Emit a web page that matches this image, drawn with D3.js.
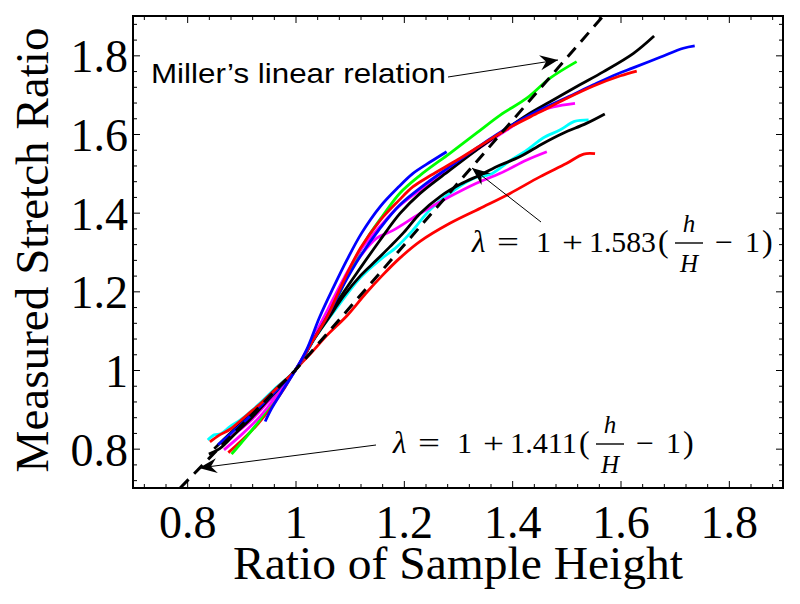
<!DOCTYPE html>
<html>
<head>
<meta charset="utf-8">
<script src="https://cdn.jsdelivr.net/npm/d3@7"></script>
<style>
  html, body { margin: 0; padding: 0; background: #ffffff; }
  svg { display: block; }
</style>
</head>
<body>
<svg id="chart" width="800" height="604"></svg>
<script>
// ---------------- data ----------------
const xTicks = [0.8, 1, 1.2, 1.4, 1.6, 1.8];
const yTicks = [0.8, 1, 1.2, 1.4, 1.6, 1.8];
const xTickLabels = ["0.8", "1", "1.2", "1.4", "1.6", "1.8"];
const yTickLabels = ["0.8", "1", "1.2", "1.4", "1.6", "1.8"];
const xTitle = "Ratio of Sample Height";
const yTitle = "Measured Stretch Ratio";

// Miller's linear relation (dashed): slope 1.411 below h/H=1, slope 1.583 above
const millerLine = [[0.787, 0.7], [1.0, 1.0], [1.568, 1.9]];

const blueShort = [[0.944,0.869],[0.955,0.9],[0.975,0.945],[1.0,1.0],[1.02,1.05],[1.045,1.136],[1.07,1.21],[1.095,1.28],[1.122,1.348],[1.156,1.415],[1.19,1.465],[1.217,1.5],[1.25,1.53],[1.279,1.555]];
const redUpper = [[0.842,0.817],[0.86,0.835],[0.88,0.85],[0.91,0.885],[0.94,0.92],[0.97,0.96],[1.0,1.0],[1.03,1.07],[1.06,1.14],[1.09,1.23],[1.12,1.31],[1.156,1.38],[1.19,1.43],[1.217,1.466],[1.25,1.495],[1.3,1.535],[1.35,1.578],[1.4,1.62],[1.45,1.655],[1.5,1.69],[1.55,1.722],[1.6,1.748],[1.63,1.76]];
const blueLong = [[0.857,0.81],[0.88,0.838],[0.91,0.875],[0.94,0.915],[0.97,0.955],[1.0,1.0],[1.03,1.07],[1.06,1.14],[1.09,1.22],[1.12,1.29],[1.156,1.36],[1.193,1.42],[1.242,1.475],[1.285,1.517],[1.347,1.576],[1.384,1.61],[1.439,1.653],[1.5,1.692],[1.55,1.725],[1.593,1.752],[1.623,1.768],[1.673,1.795],[1.716,1.818],[1.737,1.824]];
const greenLine = [[0.882,0.786],[0.9,0.815],[0.93,0.865],[0.96,0.925],[1.0,1.0],[1.03,1.07],[1.065,1.15],[1.1,1.25],[1.13,1.33],[1.16,1.39],[1.193,1.45],[1.23,1.495],[1.285,1.551],[1.334,1.602],[1.378,1.648],[1.427,1.691],[1.47,1.742],[1.519,1.784]];
const magentaUpper = [[0.868,0.797],[0.9,0.835],[0.93,0.875],[0.96,0.925],[1.0,1.0],[1.03,1.075],[1.06,1.155],[1.09,1.235],[1.12,1.305],[1.156,1.365],[1.19,1.415],[1.24,1.468],[1.29,1.52],[1.34,1.565],[1.39,1.61],[1.439,1.652],[1.476,1.669],[1.516,1.678]];
const blackTop = [[0.85,0.8],[0.88,0.84],[0.91,0.88],[0.94,0.92],[0.97,0.96],[1.0,1.0],[1.03,1.07],[1.06,1.135],[1.09,1.2],[1.12,1.26],[1.156,1.33],[1.193,1.398],[1.23,1.449],[1.285,1.508],[1.334,1.559],[1.378,1.602],[1.427,1.648],[1.47,1.682],[1.525,1.725],[1.568,1.758],[1.624,1.805],[1.662,1.849]];
const cyanLine = [[0.838,0.822],[0.85,0.835],[0.862,0.838],[0.879,0.856],[0.9,0.875],[0.93,0.91],[0.96,0.95],[1.0,1.0],[1.04,1.09],[1.08,1.165],[1.12,1.235],[1.156,1.28],[1.187,1.313],[1.217,1.356],[1.248,1.407],[1.298,1.462],[1.334,1.49],[1.359,1.497],[1.396,1.532],[1.427,1.559],[1.457,1.59],[1.488,1.61],[1.515,1.632],[1.541,1.636]];
const blackLower = [[0.84,0.786],[0.86,0.8],[0.89,0.84],[0.92,0.88],[0.95,0.925],[1.0,1.0],[1.03,1.07],[1.06,1.13],[1.09,1.19],[1.12,1.24],[1.15,1.28],[1.174,1.313],[1.2,1.35],[1.23,1.398],[1.267,1.441],[1.304,1.472],[1.341,1.496],[1.378,1.521],[1.414,1.542],[1.457,1.576],[1.494,1.602],[1.537,1.627],[1.571,1.651]];
const magentaLower = [[0.862,0.812],[0.89,0.84],[0.92,0.875],[0.95,0.92],[0.975,0.955],[1.0,1.0],[1.03,1.07],[1.06,1.15],[1.09,1.23],[1.12,1.29],[1.15,1.335],[1.18,1.355],[1.23,1.398],[1.285,1.441],[1.334,1.475],[1.378,1.5],[1.427,1.534],[1.464,1.555]];
const redLower = [[0.876,0.79],[0.9,0.82],[0.93,0.862],[0.96,0.915],[0.98,0.955],[1.0,1.0],[1.03,1.045],[1.058,1.088],[1.095,1.138],[1.13,1.195],[1.16,1.24],[1.193,1.285],[1.23,1.327],[1.285,1.373],[1.347,1.415],[1.396,1.449],[1.451,1.491],[1.5,1.525],[1.532,1.549],[1.553,1.55]];

const seriesData = [redLower, cyanLine, magentaLower, blackLower, greenLine, magentaUpper, blackTop, blueLong, redUpper, blueShort];
const seriesColors = ["#ff0000","#00ffff","#ff00ff","#000000","#00ff00","#ff00ff","#000000","#0000ff","#ff0000","#0000ff"];

// annotations
const millerText = "Miller\u2019s linear relation";
const eqCoefs = ["1.583", "1.411"];

// ---------------- drawing ----------------
const svg = d3.select("#chart");
const x = d3.scaleLinear().domain([0.7, 1.9]).range([133, 783]);
const y = d3.scaleLinear().domain([0.7, 1.9]).range([488, 16]);
const SERIF = "'Liberation Serif', 'Times New Roman', serif";

const defs = svg.append("defs");
defs.append("clipPath").attr("id", "plotclip")
  .append("rect").attr("x", 133).attr("y", 16).attr("width", 650).attr("height", 472);
defs.append("marker").attr("id", "ahead")
  .attr("viewBox", "-20 -9 22 18").attr("refX", 0).attr("refY", 0)
  .attr("markerWidth", 22).attr("markerHeight", 18)
  .attr("markerUnits", "userSpaceOnUse").attr("orient", "auto")
  .append("path").attr("d", "M0,0 L-18,-7.5 L-12,0 L-18,7.5 Z").attr("fill", "#000");

const plot = svg.append("g").attr("clip-path", "url(#plotclip)");
const line = d3.line().x(d => x(d[0])).y(d => y(d[1])).curve(d3.curveCatmullRom.alpha(0.5));

seriesData.forEach((s, i) => {
  plot.append("path").datum(s)
    .attr("d", line)
    .attr("fill", "none")
    .attr("stroke", seriesColors[i])
    .attr("stroke-width", 2.8)
    .attr("stroke-linejoin", "round");
});

plot.append("path").datum(millerLine)
  .attr("d", d3.line().x(d => x(d[0])).y(d => y(d[1])))
  .attr("fill", "none").attr("stroke", "#000").attr("stroke-width", 3)
  .attr("stroke-dasharray", "12,8");

// axes: ticks inside on all four sides
const minorVals = d3.range(0.72, 1.9, 0.04).map(v => +v.toFixed(2)).filter(v => Math.abs(v*5 - Math.round(v*5)) > 1e-6);
function drawAxis(gen, tx, ty) {
  const g = svg.append("g").attr("transform", `translate(${tx},${ty})`).call(gen);
  g.select(".domain").remove();
  g.selectAll("line").attr("stroke", "#000").attr("stroke-width", 1);
  return g;
}
const mk = (axisFn, scale, len, vals) => axisFn(scale).tickValues(vals).tickSize(-len).tickFormat("");
drawAxis(mk(d3.axisBottom, x, 4, minorVals), 0, 488);
drawAxis(mk(d3.axisTop, x, 4, minorVals), 0, 16);
drawAxis(mk(d3.axisLeft, y, 4, minorVals), 133, 0);
drawAxis(mk(d3.axisRight, y, 4, minorVals), 783, 0);
drawAxis(mk(d3.axisTop, x, 7, xTicks), 0, 16);
drawAxis(mk(d3.axisRight, y, 7, yTicks), 783, 0);

const gx = drawAxis(d3.axisBottom(x).tickValues(xTicks).tickSize(-7).tickPadding(0)
  .tickFormat((d, i) => xTickLabels[i]), 0, 488);
gx.selectAll("text").attr("font-family", SERIF)
  .attr("font-size", 46).attr("fill", "#000").attr("y", 50).attr("dy", 0);
const gy = drawAxis(d3.axisLeft(y).tickValues(yTicks).tickSize(-7).tickPadding(0)
  .tickFormat((d, i) => yTickLabels[i]), 133, 0);
gy.selectAll("text").attr("font-family", SERIF)
  .attr("font-size", 46).attr("fill", "#000").attr("x", -5).attr("dy", "0.36em");

// frame
svg.append("rect").attr("x", 133).attr("y", 16).attr("width", 650).attr("height", 472)
  .attr("fill", "none").attr("stroke", "#000").attr("stroke-width", 2);

// titles
svg.append("text").attr("x", 458).attr("y", 579).attr("text-anchor", "middle")
  .attr("font-family", SERIF).attr("font-size", 46)
  .attr("textLength", 450).attr("lengthAdjust", "spacingAndGlyphs")
  .attr("fill", "#000").text(xTitle);
svg.append("text").attr("transform", "translate(48,250) rotate(-90)").attr("text-anchor", "middle")
  .attr("font-family", SERIF).attr("font-size", 46)
  .attr("textLength", 445).attr("lengthAdjust", "spacingAndGlyphs")
  .attr("fill", "#000").text(yTitle);

// Miller annotation
svg.append("text").attr("x", 151).attr("y", 83)
  .attr("font-family", "'Liberation Sans', Arial, sans-serif").attr("font-size", 28)
  .attr("textLength", 295).attr("lengthAdjust", "spacingAndGlyphs")
  .attr("fill", "#000").text(millerText);
svg.append("line").attr("x1", 448).attr("y1", 77).attr("x2", 558).attr("y2", 60)
  .attr("stroke", "#000").attr("stroke-width", 1).attr("marker-end", "url(#ahead)");

// equation annotations: λ = 1 + c(h/H − 1), tokens laid out like LaTeX
function equation(x0, base, coef) {
  const g = svg.append("g").attr("font-family", SERIF).attr("fill", "#000");
  const tok = (t, dx, opts = {}) => {
    const el = g.append("text").attr("x", x0 + dx).attr("y", base + (opts.dy || 0))
      .attr("font-size", opts.size || 30).text(t);
    if (opts.italic) el.attr("font-style", "italic");
    if (opts.len) el.attr("textLength", opts.len).attr("lengthAdjust", "spacingAndGlyphs");
    if (opts.anchor) el.attr("text-anchor", opts.anchor);
  };
  tok("\u03bb", 0, {italic: true, size: 31});
  tok("=", 25, {len: 22});
  tok("1", 64);
  tok("+", 90, {len: 21});
  tok(coef, 117, {len: 67});
  tok("(", 186, {size: 32});
  g.append("line").attr("x1", x0 + 203).attr("x2", x0 + 231).attr("y1", base - 9).attr("y2", base - 9)
    .attr("stroke", "#000").attr("stroke-width", 1.4);
  tok("h", 217, {italic: true, size: 25, anchor: "middle", dy: -20});
  tok("H", 217, {italic: true, size: 25, anchor: "middle", dy: 20});
  tok("\u2212", 243, {len: 18});
  tok("1", 273);
  tok(")", 290, {size: 32});
}
equation(472, 252, eqCoefs[0]);
svg.append("line").attr("x1", 541).attr("y1", 222).attr("x2", 472).attr("y2", 168)
  .attr("stroke", "#000").attr("stroke-width", 1).attr("marker-end", "url(#ahead)");
equation(393, 453, eqCoefs[1]);
svg.append("line").attr("x1", 376).attr("y1", 445).attr("x2", 199).attr("y2", 468)
  .attr("stroke", "#000").attr("stroke-width", 1).attr("marker-end", "url(#ahead)");
</script>
</body>
</html>
